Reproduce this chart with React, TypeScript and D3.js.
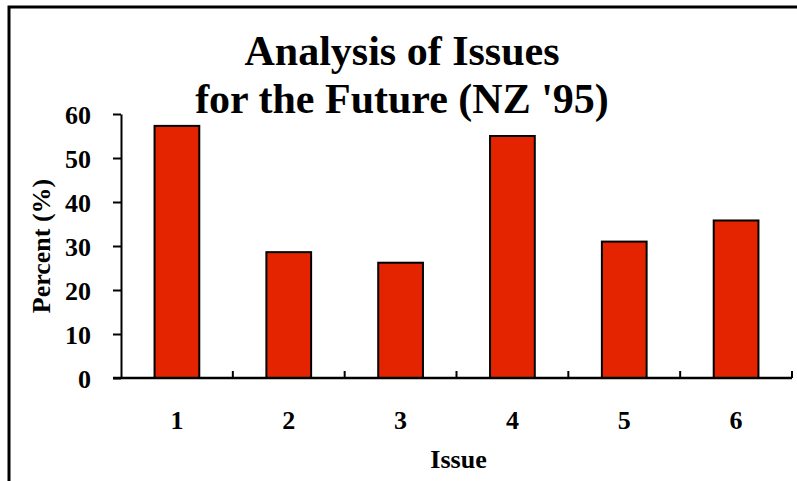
import React, { useEffect, useRef } from "react";
import * as d3 from "d3";

// Datos del gráfico
const issues = ["1", "2", "3", "4", "5", "6"];
const percents = [57.3, 28.6, 26.2, 55.0, 31.0, 35.8];
const yTicks = [0, 10, 20, 30, 40, 50, 60];
const titleLines = ["Analysis of Issues", "for the Future (NZ '95)"];
const xTitle = "Issue";
const yTitle = "Percent (%)";

const FONT = "'Liberation Serif', 'Times New Roman', serif";

const App = () => {
  const chartRef = useRef<SVGSVGElement | null>(null);

  useEffect(() => {
    const svg = d3.select(chartRef.current);
    svg.selectAll("*").remove();

    const width = 797;
    const height = 481;
    const margin = { top: 114, right: 5, bottom: 103, left: 121 };
    svg.attr("width", width).attr("height", height);

    // Marco exterior (se corta a la derecha y abajo)
    svg
      .append("path")
      .attr("d", `M9,${height + 5} L9,7 L${width + 5},7`)
      .attr("fill", "none")
      .attr("stroke", "#000")
      .attr("stroke-width", 3);

    const x = d3
      .scaleBand()
      .domain(issues)
      .range([margin.left, width - margin.right]);

    const y = d3
      .scaleLinear()
      .domain([0, 60])
      .range([height - margin.bottom, margin.top]);

    const data = issues.map((issue, i) => ({ issue, value: percents[i] }));

    // Barras
    const barW = x.bandwidth() * 0.4;
    svg
      .selectAll(".bar")
      .data(data)
      .enter()
      .append("rect")
      .attr("class", "bar")
      .attr("x", (d) => x(d.issue)! + (x.bandwidth() - barW) / 2)
      .attr("y", (d) => y(d.value))
      .attr("width", barW)
      .attr("height", (d) => y(0) - y(d.value))
      .attr("fill", "#e42400")
      .attr("stroke", "#000")
      .attr("stroke-width", 2);

    // Eje Y
    const yAxis = svg
      .append("g")
      .attr("transform", `translate(${margin.left},0)`)
      .call(
        d3
          .axisLeft(y)
          .tickValues(yTicks)
          .tickSize(8)
          .tickSizeOuter(0)
          .tickPadding(22)
      );
    yAxis.select(".domain").attr("stroke-width", 2);
    yAxis.selectAll(".tick line").attr("stroke-width", 2);
    yAxis
      .selectAll(".tick text")
      .attr("font-family", FONT)
      .attr("font-size", 26)
      .attr("font-weight", "bold")
      .attr("fill", "#000")
      .attr("dy", "0.36em");

    // Eje X: marcas entre categorías, hacia adentro
    const xAxisY = y(0);
    svg
      .append("line")
      .attr("x1", margin.left - 8)
      .attr("x2", width - margin.right)
      .attr("y1", xAxisY)
      .attr("y2", xAxisY)
      .attr("stroke", "#000")
      .attr("stroke-width", 2.5);

    const boundaries = issues.map((d) => x(d)! + x.bandwidth());
    svg
      .selectAll(".xtick")
      .data(boundaries)
      .enter()
      .append("line")
      .attr("class", "xtick")
      .attr("x1", (d) => d)
      .attr("x2", (d) => d)
      .attr("y1", xAxisY)
      .attr("y2", xAxisY - 7)
      .attr("stroke", "#000")
      .attr("stroke-width", 2);

    svg
      .selectAll(".xlabel")
      .data(issues)
      .enter()
      .append("text")
      .attr("class", "xlabel")
      .attr("x", (d) => x(d)! + x.bandwidth() / 2)
      .attr("y", 429)
      .attr("text-anchor", "middle")
      .attr("font-family", FONT)
      .attr("font-size", 26)
      .attr("font-weight", "bold")
      .text((d) => d);

    // Títulos de ejes
    svg
      .append("text")
      .attr("x", (margin.left + width - margin.right) / 2 + 2)
      .attr("y", 468)
      .attr("text-anchor", "middle")
      .attr("font-family", FONT)
      .attr("font-size", 26)
      .attr("font-weight", "bold")
      .text(xTitle);

    svg
      .append("text")
      .attr("transform", "translate(50,246) rotate(-90)")
      .attr("text-anchor", "middle")
      .attr("font-family", FONT)
      .attr("font-size", 26)
      .attr("font-weight", "bold")
      .text(yTitle);

    // Título
    svg
      .selectAll(".title")
      .data(titleLines)
      .enter()
      .append("text")
      .attr("class", "title")
      .attr("x", 402)
      .attr("y", (d, i) => 65 + i * 48)
      .attr("text-anchor", "middle")
      .attr("font-family", FONT)
      .attr("font-size", 42)
      .attr("font-weight", "bold")
      .text((d) => d);
  }, []);

  return (
    <svg
      ref={chartRef}
      style={{ position: "absolute", left: 0, top: 0, display: "block", background: "#fff" }}
    ></svg>
  );
};

export default App;
